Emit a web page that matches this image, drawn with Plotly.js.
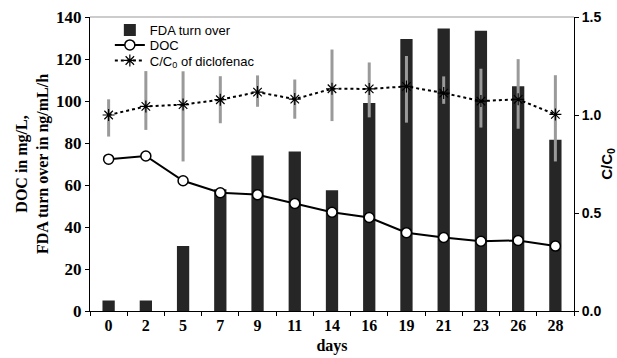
<!DOCTYPE html>
<html>
<head>
<meta charset="utf-8">
<script src="https://cdn.plot.ly/plotly-3.0.1.min.js"></script>
<style>html,body{margin:0;padding:0;background:#fff;}#chart{width:617px;height:358px;}</style>
</head>
<body>
<div id="chart"></div>
<script>
const days = ["0","2","5","7","9","11","14","16","19","21","23","26","28"];
const fdaTurnover = [5, 5, 31, 58, 74, 76, 57.5, 99, 129.5, 134.5, 133.5, 107, 81.5];
const doc = [72.3, 73.8, 62, 56.3, 55.4, 51.2, 47, 44.5, 37.3, 35, 33.2, 33.6, 30.9];
const cRatio = [1.0, 1.044, 1.053, 1.078, 1.117, 1.081, 1.134, 1.133, 1.146, 1.112, 1.071, 1.08, 1.003];
const cErrPlus = [0.08, 0.18, 0.17, 0.12, 0.085, 0.1, 0.2, 0.135, 0.155, 0.085, 0.165, 0.205, 0.2];
const cErrMinus = [0.11, 0.12, 0.29, 0.12, 0.075, 0.1, 0.165, 0.145, 0.185, 0.055, 0.135, 0.15, 0.24];

const serif = "Liberation Serif, Times New Roman, serif";
const sans = "Liberation Sans, Arial, sans-serif";

const traces = [
  {
    type: "bar", name: "FDA turn over", x: days, y: fdaTurnover, legend: "legend",
    marker: {color: "#262626", line: {width: 0}},
    width: 0.33
  },
  {
    type: "scatter", mode: "lines+markers", name: "DOC", x: days, y: doc, legend: "legend2",
    line: {color: "#000", width: 2},
    marker: {symbol: "circle", size: 10, color: "#fff", line: {color: "#000", width: 1.5}}
  },
  {
    type: "scatter", mode: "lines+markers", name: "C/C<sub>0</sub> of diclofenac", x: days, y: cRatio,
    yaxis: "y2", legend: "legend3",
    line: {color: "#000", width: 2, dash: "dot"},
    marker: {symbol: "asterisk-open", size: 10, color: "#000", line: {color: "#000", width: 1.2}},
    error_y: {type: "data", symmetric: false, array: cErrPlus, arrayminus: cErrMinus,
              color: "#9a9a9a", thickness: 3, width: 0}
  }
];

function leg(y) {
  return {x: 0.041, y: y, xanchor: "left", yanchor: "top", bgcolor: "rgba(0,0,0,0)",
          font: {family: sans, size: 13, color: "#000"}, itemwidth: 30};
}

const layout = {
  width: 617, height: 358,
  margin: {l: 90, r: 43, t: 17, b: 47},
  paper_bgcolor: "#fff", plot_bgcolor: "#fff",
  showlegend: true,
  legend: leg(1.007),
  legend2: leg(0.956),
  legend3: leg(0.903),
  bargap: 0.6,
  xaxis: {
    type: "category", range: [-0.5, 12.5], showgrid: false, zeroline: false, automargin: false,
    showline: true, linecolor: "#000", linewidth: 1,
    ticks: "outside", tickson: "boundaries", ticklen: 4, tickcolor: "#000",
    tickfont: {family: serif, size: 16, color: "#000", weight: "bold"},
    title: {text: "<b>days</b>", font: {family: serif, size: 16, color: "#000"}, standoff: 6},
    mirror: false
  },
  yaxis: {
    range: [0, 140], dtick: 20, showgrid: false, zeroline: false, automargin: false,
    showline: true, linecolor: "#000", linewidth: 1,
    ticks: "outside", ticklen: 4, tickcolor: "#000",
    tickfont: {family: serif, size: 17, color: "#000", weight: "bold"},
    title: {text: "<b>DOC in mg/L,<br>FDA turn over in ng/mL/h</b>", font: {family: serif, size: 16, color: "#000"}, standoff: 3}
  },
  yaxis2: {
    range: [0, 1.5], dtick: 0.5, tickformat: ".1f", overlaying: "y", side: "right", automargin: false,
    showgrid: false, zeroline: false, showline: true, linecolor: "#000", linewidth: 1,
    ticks: "outside", ticklen: 4, tickcolor: "#000",
    tickfont: {family: sans, size: 14, color: "#000", weight: "bold"},
    title: {text: "<b>C/C<sub>0</sub></b>", font: {family: sans, size: 15, color: "#000"}, standoff: 2}
  },
  shapes: [
    {type: "line", xref: "paper", yref: "paper", x0: 0, x1: 1, y0: 1, y1: 1,
     line: {color: "#999", width: 1}}
  ]
};

Plotly.newPlot("chart", traces, layout, {displayModeBar: false, staticPlot: true});
</script>
</body>
</html>
